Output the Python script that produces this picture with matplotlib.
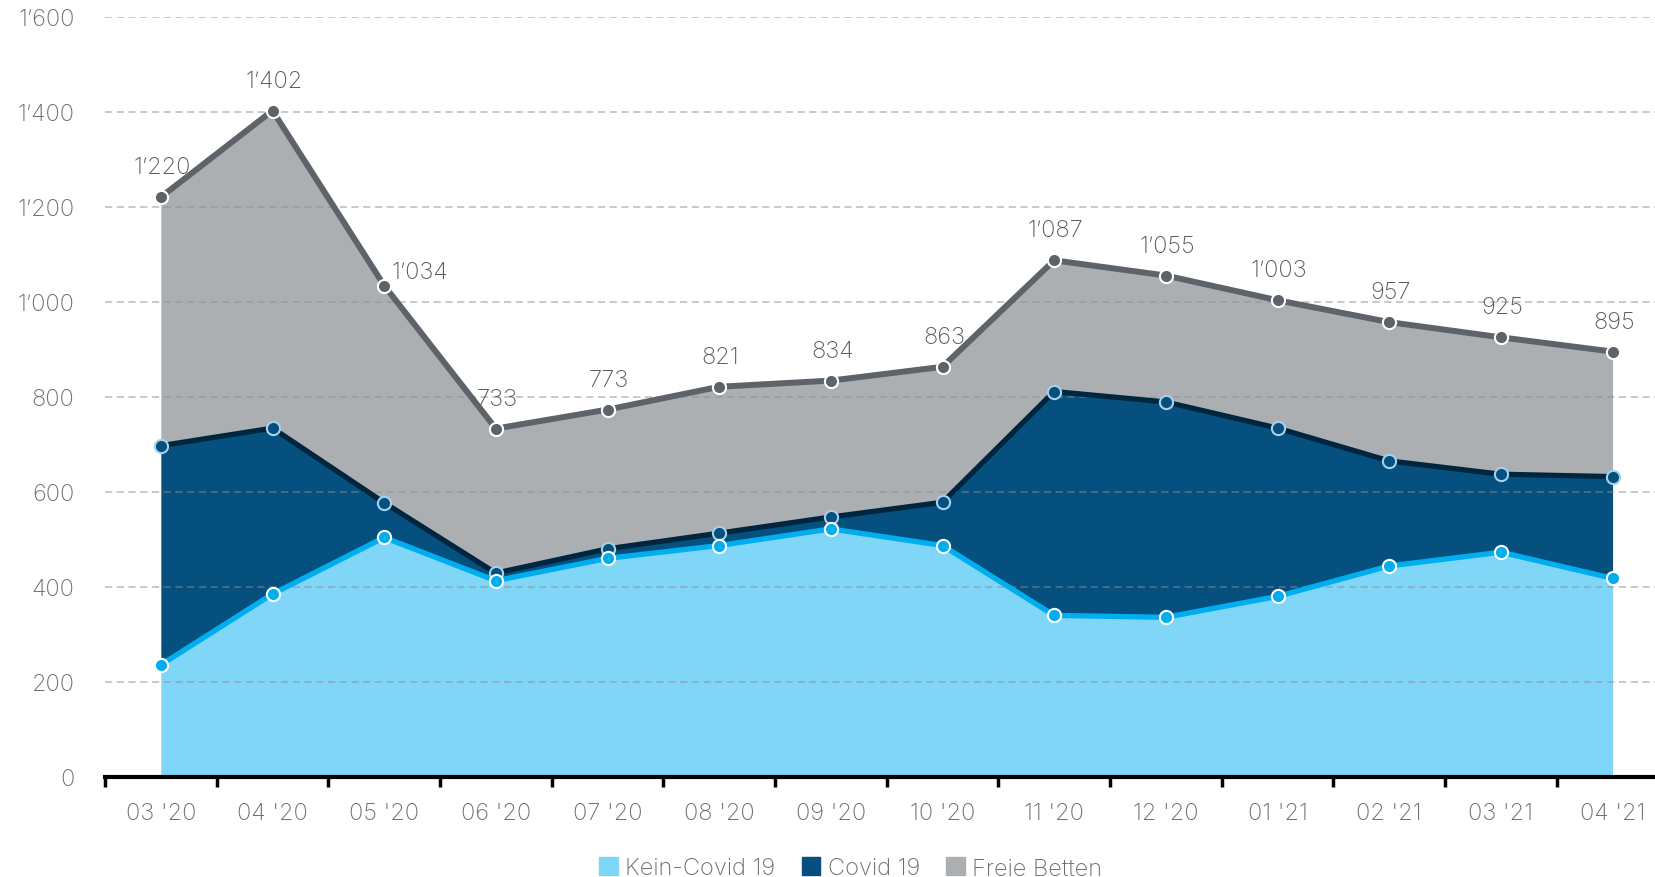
import matplotlib.pyplot as plt
import numpy as np
from matplotlib.patches import Patch

months = ["03 '20", "04 '20", "05 '20", "06 '20", "07 '20", "08 '20", "09 '20",
          "10 '20", "11 '20", "12 '20", "01 '21", "02 '21", "03 '21", "04 '21"]
kein_covid = [236, 385, 504, 413, 460, 487, 522, 487, 340, 336, 380, 444, 473, 418]
covid = [461, 349, 73, 16, 20, 26, 25, 91, 471, 453, 354, 221, 164, 214]
total = [1220, 1402, 1034, 733, 773, 821, 834, 863, 1087, 1055, 1003, 957, 925, 895]
yticks = [0, 200, 400, 600, 800, 1000, 1200, 1400, 1600]


def fmt(v):
    # thousands separator as used in the report
    s = str(int(v))
    if len(s) > 3:
        s = s[:-3] + "\u2019" + s[-3:]
    return s


plt.rcParams['font.family'] = ['Inter', 'DejaVu Sans']

light_fill = "#80D6F7"
light_line = "#00AEEF"
dark_fill = "#06507F"
dark_line = "#00263F"
gray_fill = "#ACAFB2"
gray_line = "#5D6369"
text_col = "#6E6E6E"

x = np.arange(len(months))
low = np.array(kein_covid)
mid = low + np.array(covid)
top = np.array(total)

fig = plt.figure(figsize=(16.55, 8.78), dpi=100)
ax = fig.add_axes([105 / 1655, 100 / 878, 1 - 105 / 1655, 760.5 / 878])

ax.fill_between(x, mid, top, color=gray_fill, lw=0, zorder=1)
ax.fill_between(x, low, mid, color=dark_fill, lw=0, zorder=1)
ax.fill_between(x, 0, low, color=light_fill, lw=0, zorder=1)

for y in yticks[1:]:
    ax.axhline(y, color="#8C8C8C", alpha=0.5, lw=1.3, ls=(0, (4, 2.5)), zorder=2)

ax.plot(x, top, color=gray_line, lw=4.3, zorder=3, solid_capstyle='butt')
ax.plot(x, mid, color=dark_line, lw=3.8, zorder=4, solid_capstyle='butt')
ax.plot(x, low, color=light_line, lw=3.8, zorder=5, solid_capstyle='butt')

ax.plot(x, top, 'o', ms=9.5, mfc=gray_line, mec='white', mew=1.5, zorder=6)
ax.plot(x, mid, 'o', ms=9.5, mfc=dark_fill, mec="#A4D2EE", mew=1.5, zorder=6)
ax.plot(x, low, 'o', ms=9.5, mfc=light_line, mec='white', mew=1.5, zorder=7)

for i, v in enumerate(total):
    if i == 2:
        off = (26, 10)
    else:
        off = (1, 21.5)
    ax.annotate(fmt(v), (x[i], v), xytext=off, textcoords='offset points',
                ha='center', va='center', fontsize=17, color="#5A5A5A",
                fontweight='light', zorder=8)

ax.set_xlim(-0.5, 13.38)
ax.set_ylim(0, 1600)

ax.set_yticks(yticks)
ax.set_yticklabels([fmt(v) for v in yticks])
ax.set_xticks(x)
ax.set_xticklabels(months)
ax.set_xticks(np.arange(-0.5, 13.5, 1), minor=True)
ax.tick_params(axis='y', length=0, pad=22, labelsize=17, labelcolor=text_col)
ax.tick_params(axis='x', which='major', length=0, pad=18, labelsize=17,
               labelcolor=text_col)
ax.tick_params(axis='x', which='minor', length=7, width=2.5, color='black',
               direction='out')
for lab in ax.get_xticklabels() + ax.get_yticklabels():
    lab.set_fontweight('light')

for s in ['top', 'right', 'left']:
    ax.spines[s].set_visible(False)
ax.spines['bottom'].set_linewidth(3)
ax.spines['bottom'].set_color('black')
ax.spines['bottom'].set_zorder(9)

handles = [Patch(color=light_fill, label="Kein-Covid 19"),
           Patch(color=dark_fill, label="Covid 19"),
           Patch(color=gray_fill, label="Freie Betten")]
leg = fig.legend(handles=handles, loc='center', bbox_to_anchor=(0.514, 0.01),
                 ncol=3, frameon=False, fontsize=17, handlelength=0.8,
                 handleheight=0.8, handletextpad=0.3, columnspacing=1.1)
for t in leg.get_texts():
    t.set_color(text_col)
    t.set_fontweight('light')

fig.savefig("out.png", dpi=100)
